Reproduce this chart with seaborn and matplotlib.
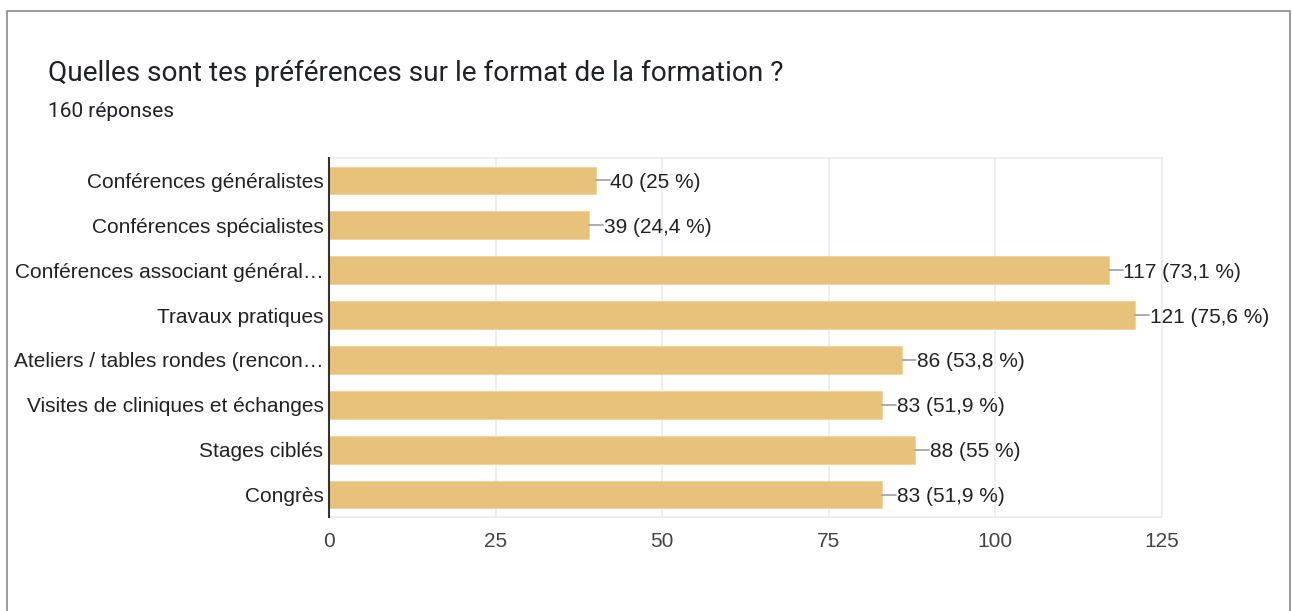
import matplotlib
matplotlib.use("Agg")
import matplotlib.pyplot as plt
import seaborn as sns
import pandas as pd
from matplotlib.patches import Rectangle

# Data
categories = [
    "Conférences généralistes",
    "Conférences spécialistes",
    "Conférences associant général…",
    "Travaux pratiques",
    "Ateliers / tables rondes (rencon…",
    "Visites de cliniques et échanges",
    "Stages ciblés",
    "Congrès",
]
counts = [40, 39, 117, 121, 86, 83, 88, 83]
total = 160
x_ticks = [0, 25, 50, 75, 100, 125]

title = "Quelles sont tes préférences sur le format de la formation ?"
subtitle = f"{total} réponses"

df = pd.DataFrame({"format": categories, "count": counts})

sns.set_theme(style="white")
plt.rcParams["font.family"] = ["Liberation Sans", "DejaVu Sans"]
head_font = ["Roboto", "DejaVu Sans"]

fig = plt.figure(figsize=(12.92, 6.11), dpi=100)
ax = fig.add_axes([329 / 1292, 94 / 611, 833 / 1292, 359 / 611])

sns.barplot(data=df, x="count", y="format", color="#E8C17A", saturation=1,
            width=0.62, ax=ax, edgecolor="#F0D4A0", linewidth=0.6, zorder=3)

# value labels with a short leader line
for i, v in enumerate(counts):
    pct = f"{100 * v / total:.1f}".replace(".0", "").replace(".", ",")
    ax.plot([v, v + 2.1], [i, i], color="#9e9e9e", lw=1.2, zorder=4, clip_on=False)
    ax.text(v + 2.2, i, f"{v} ({pct} %)", va="center_baseline", ha="left",
            fontsize=15, color="#222222", clip_on=False)

ax.set_xlim(0, 125)
ax.set_ylim(7.5, -0.5)
ax.set_xticks(x_ticks)
ax.set_xticklabels([str(t) for t in x_ticks])
ax.set_xlabel("")
ax.set_ylabel("")
ax.grid(axis="x", color="#ebebeb", lw=1.2, zorder=0)
ax.tick_params(axis="x", length=0, pad=11, labelsize=15, labelcolor="#444444")
ax.tick_params(axis="y", length=0, pad=4, labelsize=15, labelcolor="#222222")
for lbl in ax.get_yticklabels():
    lbl.set_va("center_baseline")

for side in ["top", "right", "bottom"]:
    ax.spines[side].set_color("#ebebeb")
    ax.spines[side].set_linewidth(1.2)
ax.spines["left"].set_color("#333333")
ax.spines["left"].set_linewidth(1.5)
ax.spines["left"].set_zorder(5)

fig.text(48 / 1292, 1 - 81 / 611, title, fontsize=20.2, color="#202124",
         va="baseline", family=head_font)
fig.text(48 / 1292, 1 - 117 / 611, subtitle, fontsize=15, color="#202124",
         va="baseline", family=head_font)

# card border
fig.patches.append(Rectangle((7 / 1292, -0.1), 1283 / 1292, 1 - 11 / 611 + 0.1,
                             transform=fig.transFigure, fill=False,
                             edgecolor="#8a8a8a", lw=1.2))

fig.savefig("out.png", dpi=100)
